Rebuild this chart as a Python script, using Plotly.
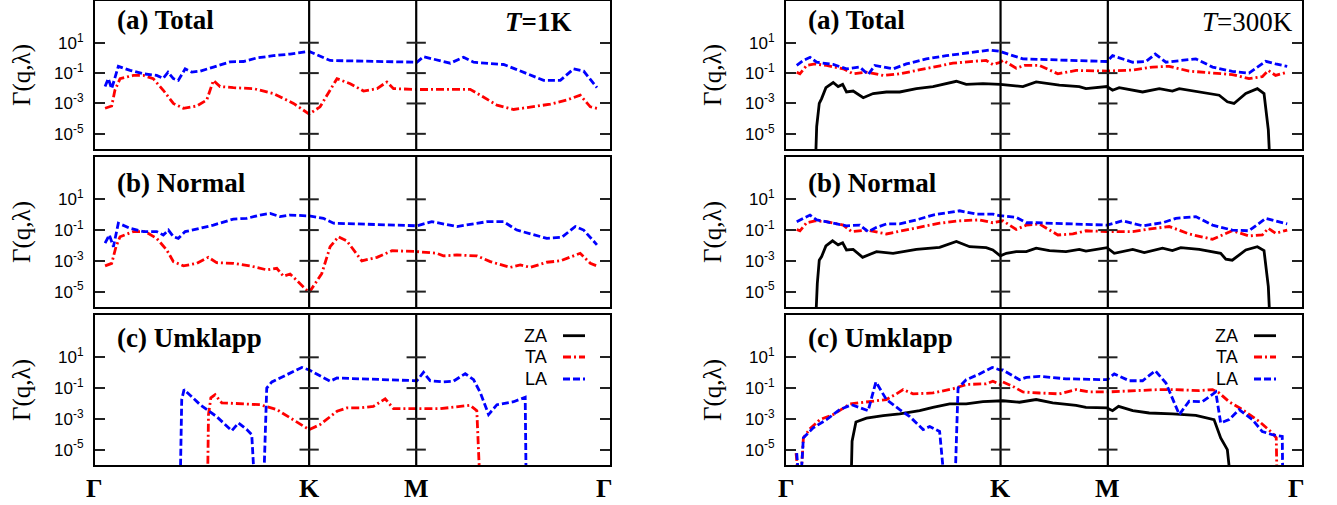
import plotly.graph_objects as go

# ---------------- data (path coordinate: Gamma=0, K=1, M=1.5, Gamma=2.38) ----------------
sym_labels = ["Γ", "K", "M", "Γ"]
sym_pos = [0.0, 1.0, 1.5, 2.38]
ytick_vals = [1e1, 1e-1, 1e-3, 1e-5]
ytick_text = ["10<sup>1</sup>", "10<sup>-1</sup>", "10<sup>-3</sup>", "10<sup>-5</sup>"]
modes = ["ZA", "TA", "LA"]

# ---- T = 1 K, (a) Total ----
x_a1_ta = [.047, .078, .093, .117, .179, .226, .272, .319, .366, .413, .475, .522, .553, .584, .646, .740, .833, .927, 1.0,
           1.051, 1.13, 1.192, 1.254, 1.317, 1.363, 1.394, 1.503, 1.752, 1.799, 1.877, 1.955, 2.033, 2.126, 2.204, 2.266, 2.313, 2.344]
y_a1_ta = [4.8e-4, 6.8e-4, 7.4e-3, 4.3e-2, 7e-2, 7e-2, 4.3e-2, 7.4e-3, 1e-3, 4.8e-4, 6.8e-4, 1.7e-3, 3.3e-2, 1.3e-2, 1.1e-2, 9.5e-3, 4.5e-3, 1e-3, 2e-4,
           6e-4, 4.3e-2, 2e-2, 6.6e-3, 9.5e-3, 2.6e-2, 9.5e-3, 8.3e-3, 8.5e-3, 3.5e-3, 7.8e-4, 4e-4, 5.5e-4, 9e-4, 1.7e-3, 3.5e-3, 6e-4, 4.8e-4]
x_a1_la = [.047, .062, .078, .109, .164, .226, .288, .318, .341, .366, .389, .421, .452, .491, .553, .631, .693, .756, .833, .911, 1.0,
           1.098, 1.503, 1.534, 1.659, 1.721, 1.768, 1.908, 1.97, 2.095, 2.173, 2.235, 2.282, 2.344]
y_a1_la = [1.3e-2, 4.3e-2, 9.5e-3, 0.28, 0.15, 9e-2, 7e-2, 4.5e-2, 0.115, 4.3e-2, 3.3e-2, 0.19, 0.115, 0.135, 0.25, 0.55, 0.58, 1.0, 1.4, 1.8, 2.7,
           0.68, 0.52, 1.2, 0.45, 1.1, 0.52, 0.37, 0.17, 3.3e-2, 3.3e-2, 0.19, 0.135, 1.1e-2]

# ---- T = 1 K, (b) Normal ----
x_b1_ta = [.047, .078, .098, .117, .179, .234, .288, .335, .366, .413, .475, .529, .568, .646, .724, .802, .849, .88, .911, .958, 1.0,
           1.059, 1.098, 1.137, 1.176, 1.246, 1.317, 1.387, 1.503, 1.596, 1.627, 1.69, 1.783, 1.846, 1.939, 1.986, 2.033, 2.11, 2.173, 2.266, 2.313, 2.344]
y_b1_ta = [4.7e-4, 6.9e-4, 8.3e-3, 3.7e-2, 8e-2, 8e-2, 2.9e-2, 5.1e-3, 8.9e-4, 4.7e-4, 6.9e-4, 1.7e-3, 7.6e-4, 6.9e-4, 4.7e-4, 2.6e-4, 3.3e-4, 1e-4, 1.4e-4, 3.5e-5, 8.7e-6,
           1.5e-4, 8.3e-3, 3.7e-2, 2e-2, 1e-3, 1.7e-3, 4.6e-3, 4e-3, 3.1e-3, 2.1e-3, 2.4e-3, 2.1e-3, 8.9e-4, 3.8e-4, 5.4e-4, 3.8e-4, 8.1e-4, 1e-3, 3.1e-3, 6.9e-4, 4.7e-4]
x_b1_la = [.047, .067, .086, .109, .164, .226, .288, .319, .343, .366, .389, .421, .491, .553, .646, .709, .771, .818, .864, .911, 1.0,
           1.067, 1.114, 1.503, 1.573, 1.69, 1.83, 1.908, 1.97, 2.11, 2.18, 2.243, 2.282, 2.344]
y_b1_la = [1.4e-2, 4.8e-2, 8.3e-3, 0.28, 0.13, 8e-2, 8e-2, 4.8e-2, 0.1, 3.7e-2, 2.9e-2, 8e-2, 0.13, 0.21, 0.52, 0.58, 0.95, 1.2, 0.75, 0.95, 0.83,
           0.58, 0.28, 0.19, 0.35, 0.17, 0.35, 0.35, 0.1, 2.9e-2, 3.4e-2, 0.17, 0.1, 1.1e-2]

# ---- T = 1 K, (c) Umklapp ----
x_c1_ta = [.525, .53, .541, .561, .592, .678, .771, .849, .927, 1.0, 1.051, 1.13, 1.176, 1.238, 1.3, 1.355, 1.394, 1.503,
           1.612, 1.752, 1.783, 1.8]
y_c1_ta = [1e-8, 1.9e-3, 2.3e-2, 3.7e-2, 1.1e-2, 9.3e-3, 8.3e-3, 4e-3, 8.9e-4, 2e-4, 4.2e-4, 3.1e-3, 5.1e-3, 5.1e-3, 6.5e-3, 2e-2, 4.6e-3, 4.6e-3,
           4.6e-3, 7.6e-3, 3.4e-3, 1e-8]
x_c1_la = [.397, .405, .416, .491, .568, .639, .67, .709, .732, .748, .786, .802, .826, .896, .966, 1.0, 1.098, 1.13, 1.503, 1.534,
           1.565, 1.627, 1.674, 1.729, 1.768, 1.8, 1.838, 1.877, 1.955, 2.009, 2.014]
y_c1_la = [1e-8, 1.8e-2, 8e-2, 8.3e-3, 1.4e-3, 1.7e-4, 5.4e-4, 2e-4, 9.3e-5, 1e-8, 1e-8, 0.1, 0.25, 0.74, 2.2, 1.5, 0.28, 0.45, 0.3, 1.05,
           0.3, 0.25, 0.28, 0.87, 0.35, 4.8e-2, 1.9e-3, 8.3e-3, 1.3e-2, 2.5e-2, 1e-8]

# ---- T = 300 K, (a) Total ----
x_a3_za = [.135, .143, .155, .166, .186, .22, .243, .264, .282, .313, .36, .406, .468, .53, .608, .685, .794, .84, .918, .999,
           1.104, 1.166, 1.274, 1.367, 1.398, 1.496, 1.522, 1.553, 1.662, 1.74, 1.801, 1.833, 2.019, 2.057, 2.088, 2.143, 2.197, 2.228, 2.248, 2.259]
y_a3_za = [1e-8, 3e-5, 1e-3, 2.1e-3, 1.1e-2, 2.4e-2, 1.3e-2, 1.8e-2, 5.7e-3, 6.6e-3, 2.4e-3, 4.5e-3, 5.7e-3, 5.7e-3, 9.5e-3, 1.3e-2, 2.9e-2, 1.8e-2, 2e-2, 1.8e-2,
           1.3e-2, 2.6e-2, 1.6e-2, 1.3e-2, 9.5e-3, 1.3e-2, 7.4e-3, 1.1e-2, 5.7e-3, 9.5e-3, 6.6e-3, 9.5e-3, 3.5e-3, 1.3e-3, 1e-3, 4.5e-3, 9.5e-3, 4.5e-3, 1.8e-5, 1e-8]
x_a3_ta = [.05, .065, .096, .135, .189, .267, .313, .375, .453, .53, .608, .685, .778, .871, .933, .964, .999,
           1.011, 1.073, 1.112, 1.181, 1.267, 1.352, 1.496, 1.616, 1.709, 1.786, 1.879, 2.003, 2.08, 2.158, 2.22, 2.248, 2.282, 2.336]
y_a3_ta = [0.115, 9e-2, 0.32, 0.4, 0.32, 0.19, 9e-2, 0.115, 7e-2, 9e-2, 0.15, 0.25, 0.45, 0.6, 0.68, 0.37, 0.52,
           0.7, 0.21, 0.32, 0.32, 9e-2, 0.15, 0.135, 0.16, 0.25, 0.28, 0.135, 0.1, 8e-2, 4.3e-2, 5.8e-2, 0.15, 7e-2, 0.115]
x_a3_la = [.05, .081, .112, .143, .22, .282, .344, .383, .414, .453, .499, .561, .654, .747, .84, .949, .999,
           1.011, 1.104, 1.228, 1.496, 1.522, 1.616, 1.678, 1.721, 1.771, 1.91, 1.988, 2.08, 2.158, 2.236, 2.282, 2.336]
y_a3_la = [0.32, 0.68, 1.1, 0.52, 0.37, 0.19, 0.25, 8e-2, 0.32, 0.25, 0.19, 0.4, 0.87, 1.4, 2.0, 3.3, 2.7,
           2.3, 0.87, 0.74, 0.58, 1.4, 0.52, 0.58, 1.8, 0.52, 0.87, 0.25, 0.13, 0.1, 0.6, 0.4, 0.28]

# ---- T = 300 K, (b) Normal ----
x_b3_za = [.135, .146, .155, .166, .186, .217, .243, .264, .282, .313, .357, .422, .499, .608, .716, .794, .856, .933, .964, .999,
           1.027, 1.073, 1.12, 1.166, 1.228, 1.305, 1.367, 1.398, 1.496, 1.53, 1.616, 1.67, 1.755, 1.801, 1.84, 1.926, 2.026, 2.05, 2.08,
           2.143, 2.197, 2.228, 2.248, 2.259]
y_b3_za = [1e-8, 3.5e-5, 1.1e-3, 1.9e-3, 9.3e-3, 2e-2, 1.1e-2, 1.5e-2, 5.1e-3, 5.6e-3, 1.7e-3, 4e-3, 3.1e-3, 5.6e-3, 7.6e-3, 1.8e-2, 8.3e-3, 7.2e-3, 5.1e-3, 2.1e-3,
           3.1e-3, 4e-3, 4e-3, 6.6e-3, 4.6e-3, 4e-3, 5.6e-3, 4.3e-3, 7.2e-3, 3.1e-3, 5.6e-3, 3.4e-3, 6.6e-3, 4.6e-3, 7.2e-3, 5.6e-3, 3.1e-3, 1.3e-3, 1.1e-3,
           5.1e-3, 8.3e-3, 4.6e-3, 2.1e-5, 1e-8]
x_b3_ta = [.05, .065, .096, .135, .189, .267, .305, .375, .468, .546, .623, .716, .809, .902, .964, .999,
           1.011, 1.073, 1.12, 1.181, 1.267, 1.337, 1.398, 1.496, 1.616, 1.678, 1.786, 1.879, 1.988, 2.08, 2.158, 2.22, 2.248, 2.282, 2.336]
y_b3_ta = [0.11, 9e-2, 0.3, 0.4, 0.35, 0.21, 8e-2, 0.1, 5.6e-2, 9e-2, 0.15, 0.28, 0.4, 0.46, 0.3, 0.4,
           0.4, 0.11, 0.21, 0.25, 4.8e-2, 5.6e-2, 9e-2, 8e-2, 8e-2, 0.11, 0.17, 5.6e-2, 2.5e-2, 9e-2, 4.2e-2, 4.8e-2, 0.13, 6.2e-2, 0.1]
x_b3_la = [.05, .081, .112, .143, .22, .282, .344, .383, .422, .468, .53, .608, .685, .763, .809, .887, .964, .999,
           1.011, 1.073, 1.12, 1.166, 1.305, 1.496, 1.569, 1.662, 1.755, 1.817, 1.91, 1.988, 2.08, 2.158, 2.236, 2.282, 2.336]
y_b3_la = [0.35, 0.58, 0.95, 0.46, 0.3, 0.19, 0.21, 8e-2, 0.15, 0.25, 0.25, 0.46, 0.95, 1.35, 1.8, 1.1, 1.1, 0.83,
           0.83, 0.68, 0.3, 0.3, 0.25, 0.21, 0.4, 0.19, 0.3, 0.58, 0.75, 0.21, 0.1, 9e-2, 0.58, 0.4, 0.25]

# ---- T = 300 K, (c) Umklapp ----
x_c3_za = [.302, .308, .326, .375, .453, .53, .623, .685, .763, .84, .918, .999,
           1.011, 1.088, 1.166, 1.243, 1.352, 1.398, 1.496, 1.522, 1.55, 1.616, 1.693, 1.801, 1.91, 1.995, 2.026, 2.057, 2.08]
y_c3_za = [1e-8, 3.5e-5, 6.3e-4, 1.1e-3, 1.6e-3, 2.1e-3, 3.4e-3, 5.6e-3, 9.3e-3, 9.3e-3, 1.3e-2, 1.5e-2,
           1.5e-2, 1.2e-2, 1.8e-2, 1.1e-2, 7.6e-3, 5.6e-3, 5.1e-3, 3.4e-3, 6.5e-3, 3.4e-3, 2.4e-3, 2.1e-3, 1.7e-3, 8.9e-4, 5.8e-5, 1e-5, 1e-8]
x_c3_ta = [.047, .065, .081, .112, .158, .22, .298, .344, .406, .468, .515, .546, .592, .685, .778, .84, .933, .964, .999,
           1.011, 1.057, 1.104, 1.181, 1.274, 1.352, 1.414, 1.496, 1.616, 1.74, 1.801, 1.926, 1.988, 2.019, 2.065, 2.127, 2.205, 2.267, 2.285, 2.29]
y_c3_ta = [6e-6, 1e-8, 5.8e-5, 2.3e-4, 8.9e-4, 1.9e-3, 9.3e-3, 1.1e-2, 1.4e-2, 1.8e-2, 4.2e-2, 8e-2, 4.2e-2, 4.8e-2, 9e-2, 0.17, 0.19, 0.28, 0.17,
           0.25, 0.13, 5.6e-2, 4.8e-2, 4.2e-2, 8e-2, 5.6e-2, 5.6e-2, 6.8e-2, 8e-2, 8e-2, 6.8e-2, 8e-2, 4.8e-2, 1.3e-2, 4e-3, 6.9e-4, 1.2e-4, 5.8e-5, 1e-8]
x_c3_la = [.05, .065, .081, .127, .189, .251, .306, .344, .383, .419, .468, .53, .577, .639, .67, .716, .744, .786, .802, .84, .902, .961, .999,
           1.011, 1.088, 1.12, 1.181, 1.305, 1.496, 1.53, 1.6, 1.662, 1.721, 1.771, 1.833, 1.879, 1.941, 2.003, 2.026, 2.065, 2.112, 2.174, 2.22, 2.267, 2.313, 2.316]
y_c3_la = [6e-6, 1e-8, 5.8e-5, 2.6e-4, 8.9e-4, 4e-3, 8.3e-3, 5.1e-3, 3.4e-3, 0.25, 1.8e-2, 4e-3, 1.4e-3, 2e-4, 3.2e-4, 1.5e-4, 1e-8, 1e-8, 0.1, 0.35, 0.83, 2.2, 1.5,
           1.5, 0.35, 0.5, 0.58, 0.4, 0.35, 0.83, 0.3, 0.3, 1.35, 0.21, 1.9e-3, 1.4e-2, 1.3e-2, 5.6e-2, 5.4e-4, 8.9e-4, 4e-3, 8.9e-4, 1.5e-4, 9.3e-5, 7.3e-5, 1e-8]

# ---------------- styling ----------------
colors = {"ZA": "#000000", "TA": "#ff0000", "LA": "#0000ff"}
dashes = {"ZA": "solid", "TA": "8px,3px,2px,3px", "LA": "7px,3px"}
LW = 2.8
W, H = 1337, 505

# panel geometry in pixels: (left, right) per column, (top, bottom) per row
cols_px = [(95, 610), (786, 1302)]
rows_px = [(1, 149), (157, 307), (315, 465)]
row_titles = ["(a) Total", "(b) Normal", "(c) Umklapp"]
row_title_y = [20, 183, 337.5]

panels = [
    # (row, col, {mode: (x, y)})
    (0, 0, {"TA": (x_a1_ta, y_a1_ta), "LA": (x_a1_la, y_a1_la)}),
    (0, 1, {"ZA": (x_a3_za, y_a3_za), "TA": (x_a3_ta, y_a3_ta), "LA": (x_a3_la, y_a3_la)}),
    (1, 0, {"TA": (x_b1_ta, y_b1_ta), "LA": (x_b1_la, y_b1_la)}),
    (1, 1, {"ZA": (x_b3_za, y_b3_za), "TA": (x_b3_ta, y_b3_ta), "LA": (x_b3_la, y_b3_la)}),
    (2, 0, {"TA": (x_c1_ta, y_c1_ta), "LA": (x_c1_la, y_c1_la)}),
    (2, 1, {"ZA": (x_c3_za, y_c3_za), "TA": (x_c3_ta, y_c3_ta), "LA": (x_c3_la, y_c3_la)}),
]

fig = go.Figure()
layout = dict(width=W, height=H, margin=dict(l=0, r=0, t=0, b=0),
              paper_bgcolor="white", plot_bgcolor="white", showlegend=False)
shapes, annotations = [], []
XR = [0, 2.405]
YR = [-6, 3.75]

for i, (r, c, curves) in enumerate(panels, start=1):
    xa = "x" if i == 1 else f"x{i}"
    ya = "y" if i == 1 else f"y{i}"
    xl = cols_px[c][0] / W, cols_px[c][1] / W
    yl = 1 - rows_px[r][1] / H, 1 - rows_px[r][0] / H
    layout[f"xaxis{i if i > 1 else ''}"] = dict(
        domain=list(xl), range=XR, anchor=ya, showline=True, mirror=True, linecolor="black",
        linewidth=2.2, ticks="", showticklabels=False, showgrid=False, zeroline=False)
    layout[f"yaxis{i if i > 1 else ''}"] = dict(
        domain=list(yl), range=YR, type="log", anchor=xa, showline=True, mirror="ticks",
        linecolor="black", linewidth=2.2, ticks="inside", ticklen=10, tickwidth=2, tickcolor="#222",
        tickvals=ytick_vals, ticktext=ytick_text, showgrid=False, zeroline=False,
        ticklabelstandoff=6,
        tickfont=dict(family="Liberation Sans, Arial, sans-serif", size=17, color="black"))
    for m in modes:
        if m in curves:
            xs, ys = curves[m]
            fig.add_trace(go.Scatter(x=xs, y=ys, mode="lines", name=m, xaxis=xa, yaxis=ya,
                                     line=dict(color=colors[m], width=LW, dash=dashes[m])))
    # vertical K and M lines with cross ticks
    for xv in sym_pos[1:3]:
        shapes.append(dict(type="line", xref=xa, yref=f"{ya} domain", x0=xv, x1=xv, y0=0, y1=1,
                           line=dict(color="black", width=2.2)))
        for tv in ytick_vals:
            shapes.append(dict(type="line", xref=xa, yref=ya, x0=xv - 0.045, x1=xv + 0.045, y0=tv, y1=tv,
                               line=dict(color="#222", width=2)))
    # panel title
    annotations.append(dict(text=f"<b>{row_titles[r]}</b>", xref="paper", yref="paper",
                            x=(cols_px[c][0] + 20) / W, y=1 - row_title_y[r] / H,
                            xanchor="left", yanchor="middle", showarrow=False,
                            font=dict(family="Liberation Serif, Times New Roman, serif", size=27, color="black")))
    # y-axis title
    annotations.append(dict(text="Γ(q,λ)", xref="paper", yref="paper",
                            x=(cols_px[c][0] - 73) / W, y=(yl[0] + yl[1]) / 2,
                            xanchor="center", yanchor="middle", textangle=-90, showarrow=False,
                            font=dict(family="Liberation Serif, Times New Roman, serif", size=25, color="black")))
    # bottom symmetry labels
    if r == 2:
        for lab, pos in zip(sym_labels, sym_pos):
            annotations.append(dict(text=f"<b>{lab}</b>", xref=xa, yref="paper", x=pos, y=1 - 488 / H,
                                    xanchor="center", yanchor="middle", showarrow=False,
                                    font=dict(family="Liberation Serif, Times New Roman, serif", size=26, color="black")))
        # manual legend: text then line sample
        text_right = [549, 1240][c]
        line_l = [563, 1254][c]
        for m, yy in zip(modes, [335.7, 357, 379]):
            annotations.append(dict(text=m, xref="paper", yref="paper", x=text_right / W, y=1 - yy / H,
                                    xanchor="right", yanchor="middle", showarrow=False,
                                    font=dict(family="Liberation Sans, Arial, sans-serif", size=18, color="black")))
            shapes.append(dict(type="line", xref="paper", yref="paper", x0=line_l / W, x1=(line_l + 22) / W,
                               y0=1 - yy / H, y1=1 - yy / H,
                               line=dict(color=colors[m], width=LW, dash=dashes[m])))

# temperature labels
annotations.append(dict(text="<b><i>T</i>=1K</b>", xref="paper", yref="paper", x=573 / W, y=1 - 21.5 / H,
                        xanchor="right", yanchor="middle", showarrow=False,
                        font=dict(family="Liberation Serif, Times New Roman, serif", size=27, color="black")))
annotations.append(dict(text="<i>T</i>=300K", xref="paper", yref="paper", x=1295 / W, y=1 - 21.5 / H,
                        xanchor="right", yanchor="middle", showarrow=False,
                        font=dict(family="Liberation Serif, Times New Roman, serif", size=27, color="black")))

layout["shapes"] = shapes
layout["annotations"] = annotations
fig.update_layout(**layout)
fig.write_html("out.html")
